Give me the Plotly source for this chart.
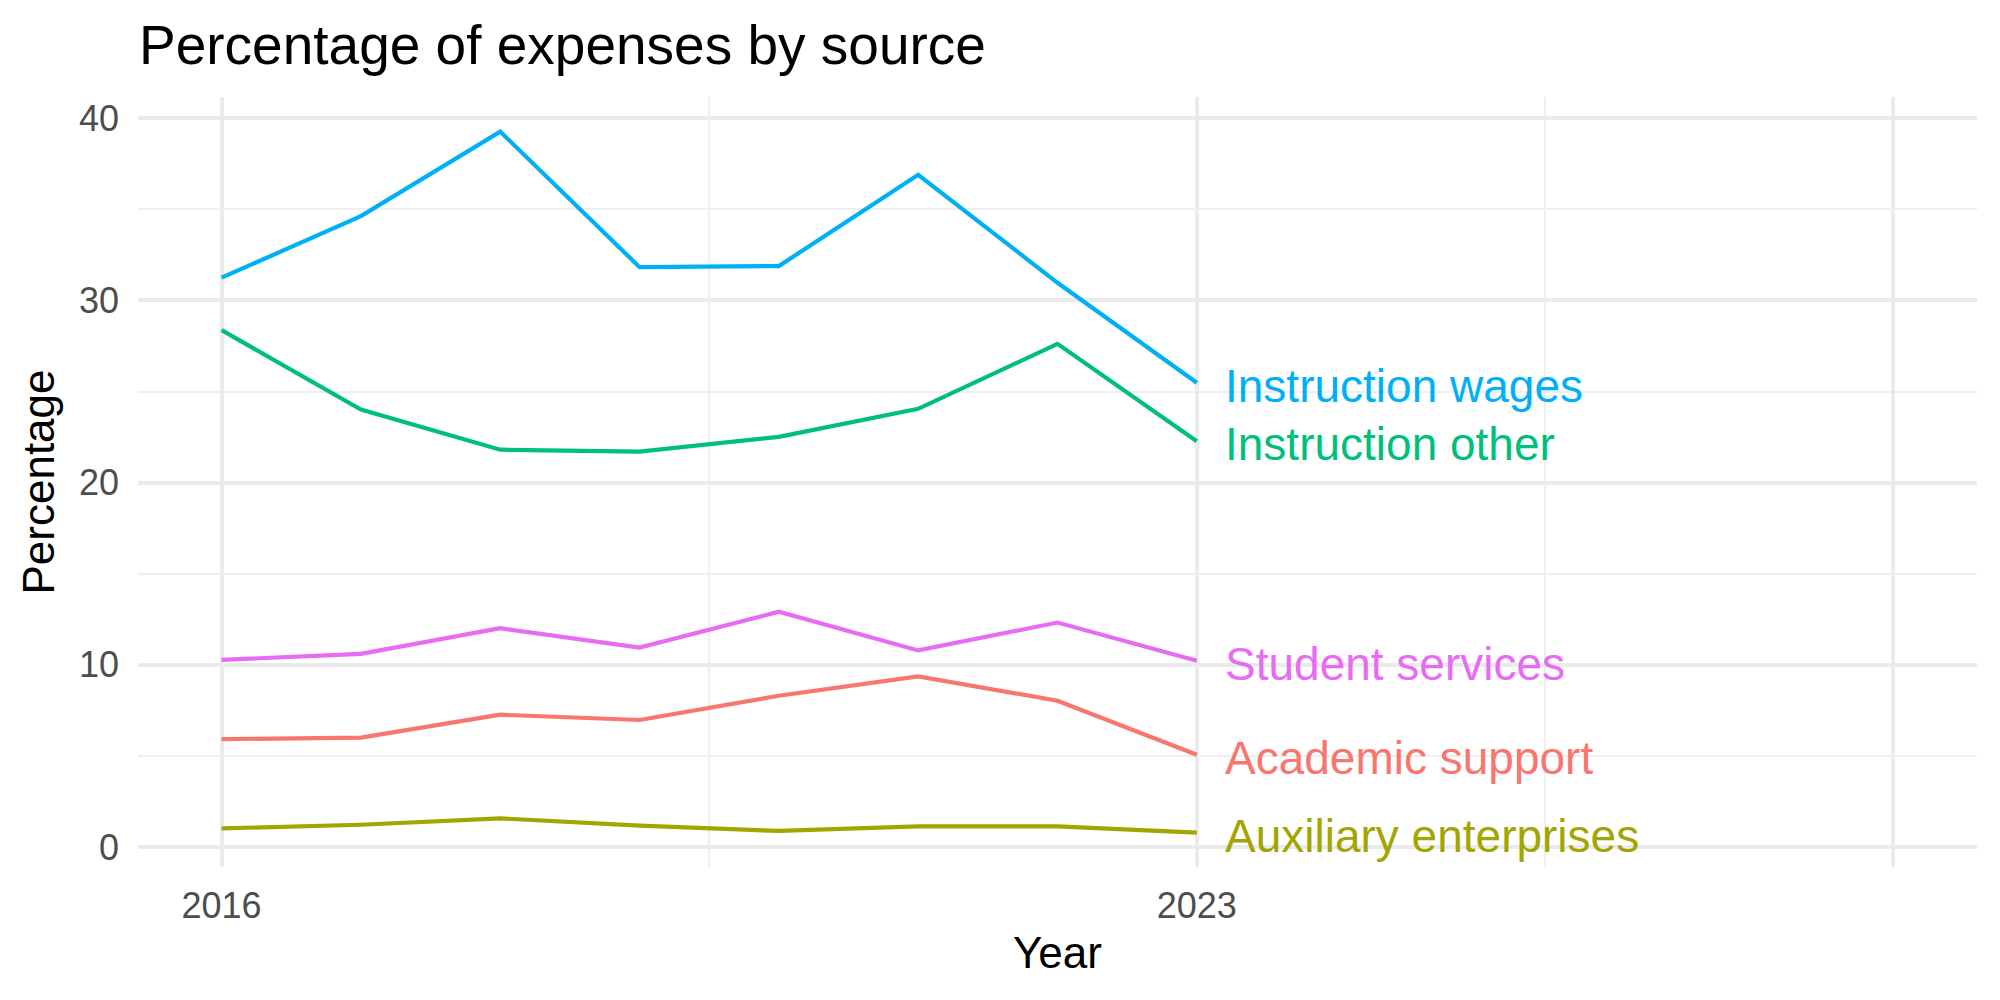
import plotly.graph_objects as go

years = [2016, 2017, 2018, 2019, 2020, 2021, 2022, 2023]
series_names = ["Academic support", "Auxiliary enterprises", "Instruction other",
                "Instruction wages", "Student services"]
academic_support = [5.92, 6.00, 7.26, 6.97, 8.30, 9.36, 8.03, 5.06]
auxiliary_enterprises = [1.02, 1.22, 1.57, 1.17, 0.88, 1.13, 1.13, 0.79]
instruction_other = [28.37, 24.01, 21.81, 21.70, 22.51, 24.05, 27.62, 22.27]
instruction_wages = [31.25, 34.63, 39.27, 31.83, 31.89, 36.90, 30.97, 25.48]
student_services = [10.27, 10.60, 12.01, 10.95, 12.91, 10.79, 12.32, 10.22]
colors = ["#F8766D", "#A3A500", "#00BF7D", "#00B0F6", "#E76BF3"]

x_tickvals = [2016, 2023, 2028]
x_ticktext = ["2016", "2023", ""]
x_minor = [2019.5, 2025.5]
y_tickvals = [0, 10, 20, 30, 40]
y_minor = [5, 15, 25, 35]

values = [academic_support, auxiliary_enterprises, instruction_other,
          instruction_wages, student_services]

FONT = "Liberation Sans, Arial, Helvetica, sans-serif"

fig = go.Figure()
for name, vals, col in zip(series_names, values, colors):
    fig.add_trace(go.Scatter(x=years, y=vals, mode="lines", name=name,
                             line=dict(color=col, width=4.2), showlegend=False))
    fig.add_annotation(x=years[-1], y=vals[-1], text=name, showarrow=False,
                       xanchor="left", yanchor="middle", xshift=26, yshift=-3,
                       font=dict(family=FONT, size=46, color=col))

fig.update_layout(
    width=2000, height=1000,
    margin=dict(l=138, r=23, t=97, b=133),
    paper_bgcolor="white", plot_bgcolor="white",
    title=dict(text="Percentage of expenses by source", xref="container", yref="container",
               x=0.0695, xanchor="left", y=0.955, yanchor="middle",
               font=dict(family=FONT, size=55, color="black")),
    xaxis=dict(range=[2015.4, 2028.6], tickmode="array", tickvals=x_tickvals, ticktext=x_ticktext,
               showgrid=True, gridcolor="#EBEBEB", gridwidth=4, zeroline=False, showline=False,
               ticks="", ticklabelstandoff=14,
               tickfont=dict(family=FONT, size=36, color="#4D4D4D"),
               title=dict(text="Year", font=dict(family=FONT, size=44, color="black"), standoff=12),
               minor=dict(tickmode="array", tickvals=x_minor, showgrid=True,
                          gridcolor="#EFEFEF", gridwidth=2, ticks="")),
    yaxis=dict(range=[-1.1, 41.17], tickmode="array", tickvals=y_tickvals,
               showgrid=True, gridcolor="#EBEBEB", gridwidth=4, zeroline=False, showline=False,
               ticks="", ticklabelstandoff=18,
               tickfont=dict(family=FONT, size=36, color="#4D4D4D"),
               title=dict(text="Percentage", font=dict(family=FONT, size=44, color="black"), standoff=10),
               minor=dict(tickmode="array", tickvals=y_minor, showgrid=True,
                          gridcolor="#EFEFEF", gridwidth=2, ticks="")),
)

fig.write_html("out.html")
